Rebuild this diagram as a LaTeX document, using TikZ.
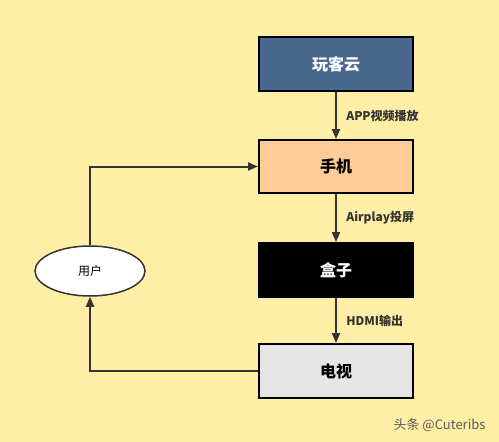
\documentclass[tikz,border=0pt]{standalone}
\usepackage{fontspec}
\setmainfont{Noto Sans CJK SC}
\usetikzlibrary{arrows.meta,shapes.geometric}
\definecolor{bgyellow}{RGB}{255,239,166}
\definecolor{cloudblue}{RGB}{74,104,140}
\definecolor{phonepeach}{RGB}{255,204,153}
\definecolor{tvgray}{RGB}{230,230,230}
\definecolor{linegray}{RGB}{51,51,51}
\tikzset{
  device/.style={draw=black,line width=2pt,minimum width=154pt,minimum height=54pt,font=\fontsize{16}{18}\selectfont\bfseries},
  flow/.style={draw=linegray,line width=2pt,-{Triangle[length=10pt,width=8pt]}},
  lbl/.style={anchor=west,xshift=6pt,text=linegray,font=\fontsize{12}{14}\selectfont\bfseries}
}

\begin{document}
\begin{tikzpicture}[x=1pt,y=-1pt]
\useasboundingbox[fill=bgyellow] (0,0) rectangle (499,442);
\node[device,fill=cloudblue,text=white] (cloud) at (336,64) {玩客云};
\node[device,fill=phonepeach,minimum height=53pt] (phone) at (336,166.5) {手机};
\node[device,fill=black,text=white] (box) at (336,270) {盒子};
\node[device,fill=tvgray] (tv) at (336,371) {电视};
\node[ellipse,draw=linegray,line width=1.5pt,fill=white,minimum width=110pt,minimum height=50pt,inner sep=0pt,font=\fontsize{12}{14}\selectfont] (user) at (90,271) {用户};
\draw[flow] (cloud) -- node[lbl] {APP视频播放} (phone);
\draw[flow] (phone) -- node[lbl] {Airplay投屏} (box);
\draw[flow] (box) -- node[lbl] {HDMI输出} (tv);
\draw[flow] (user.north) |- (phone.west);
\draw[flow] (tv.west) -| (user.south);
\node[anchor=east,text=black!65,font=\fontsize{13}{15}\selectfont] (mark) at (489,425) {头条 @Cuteribs};
\end{tikzpicture}
\end{document}
